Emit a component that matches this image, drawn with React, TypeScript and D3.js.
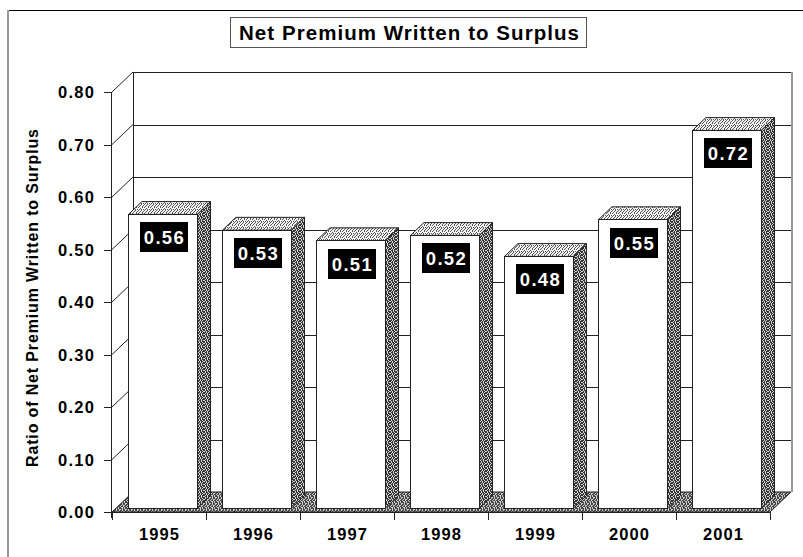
import React from "react";
import * as d3 from "d3";

// Chart data
const years = ["1995", "1996", "1997", "1998", "1999", "2000", "2001"];
const ratios = [0.56, 0.53, 0.51, 0.52, 0.48, 0.55, 0.72];
const yTicks = [0, 0.1, 0.2, 0.3, 0.4, 0.5, 0.6, 0.7, 0.8];
const chartTitle = "Net Premium Written to Surplus";
const yTitle = "Ratio of Net Premium Written to Surplus";

const W = 803;
const H = 557;

// 3D depth offset of the whole plot box (front -> back)
const DEPTH_X = 21;
const DEPTH_Y = -20;
// Bars occupy this fraction of the depth
const Z_FRONT = 0.18;
const Z_BACK = 0.82;

const FONT = "'Liberation Sans', Arial, Helvetica, sans-serif";

// Stipple masks for the textured faces ("x" = dark pixel)
const TOP_MASK = ["x..x..", "..x..x", ".x..x.", "x...x.", "..x...", ".x.x.x"];
const SIDE_MASK = ["x.xx.x", ".x.xx.", "xx.x.x", "x.x.xx", ".xx.x.", "x.x.xx"];
const FLOOR_MASK = ["xx.xx.", "x.x..x", ".xx.xx", "x..x.x", "xx.x.x", ".x.xx."];

function Stipple({ id, mask, bg, fg }: { id: string; mask: string[]; bg: string; fg: string }) {
  const cells: JSX.Element[] = [];
  mask.forEach((row, r) =>
    row.split("").forEach((c, k) => {
      if (c === "x") cells.push(<rect key={`${r}-${k}`} x={k} y={r} width={1} height={1} fill={fg} />);
    })
  );
  return (
    <pattern id={id} patternUnits="userSpaceOnUse" width={mask[0].length} height={mask.length}>
      <rect width={mask[0].length} height={mask.length} fill={bg} />
      {cells}
    </pattern>
  );
}

export default function App() {
  const x = d3
    .scaleBand<string>()
    .domain(years)
    .range([112, 770])
    .paddingInner(0.27)
    .paddingOuter(0.135);
  const y = d3.scaleLinear().domain([0, 0.8]).range([512, 92]);
  const step = x.step();
  const [x0, x1] = x.range();

  // project a point (screen x on front plane, value, depth 0..1)
  const P = (px: number, v: number, z: number): [number, number] => [px + DEPTH_X * z, y(v) + DEPTH_Y * z];
  const poly = (pts: [number, number][]) => pts.map((p) => p.join(",")).join(" ");

  const boundaries = d3.range(years.length + 1).map((i) => x0 + i * step);

  return (
    <svg width={W} height={H} viewBox={`0 0 ${W} ${H}`} style={{ display: "block", position: "absolute", left: 0, top: 0 }} shapeRendering="crispEdges">
      <defs>
        <Stipple id="topFace" mask={TOP_MASK} bg="#f4f4f4" fg="#555" />
        <Stipple id="sideFace" mask={SIDE_MASK} bg="#d8d8d8" fg="#333" />
        <Stipple id="floorFace" mask={FLOOR_MASK} bg="#cfcfcf" fg="#444" />
      </defs>
      <rect width={W} height={H} fill="#fff" />

      {/* chart area frame */}
      <line x1={8} y1={10.5} x2={W} y2={10.5} stroke="#000" strokeWidth={1.5} />
      <line x1={8} y1={10} x2={8} y2={H} stroke="#999" strokeWidth={1.5} />

      {/* title */}
      <rect x={230.5} y={17.5} width={356} height={30} fill="#fff" stroke="#555" strokeWidth={1} />
      <text x={409} y={40} textAnchor="middle" fontFamily={FONT} fontWeight="bold" fontSize={20.5} textLength={340} lengthAdjust="spacing">
        {chartTitle}
      </text>

      {/* back wall gridlines */}
      {yTicks.filter((v) => v > 0).map((v) => {
        const a = P(x0, v, 1);
        const b = P(x1, v, 1);
        return <line key={`g${v}`} x1={a[0]} y1={a[1] + 0.5} x2={b[0]} y2={b[1] + 0.5} stroke="#222" strokeWidth={1} />;
      })}
      {/* left wall diagonals */}
      {yTicks.filter((v) => v > 0).map((v) => {
        const a = P(x0, v, 0);
        const b = P(x0, v, 1);
        return <line key={`d${v}`} x1={a[0]} y1={a[1]} x2={b[0]} y2={b[1]} stroke="#222" strokeWidth={1} shapeRendering="auto" />;
      })}
      {/* back wall left edge */}
      <line x1={P(x0, 0.8, 1)[0] + 0.5} y1={P(x0, 0.8, 1)[1]} x2={P(x0, 0, 1)[0] + 0.5} y2={P(x0, 0, 1)[1]} stroke="#222" />
      {/* back wall right edge */}
      <line x1={P(x1, 0.8, 1)[0] + 1} y1={P(x1, 0.8, 1)[1]} x2={P(x1, 0, 1)[0] + 1} y2={P(x1, 0, 1)[1]} stroke="#999" strokeWidth={2} />

      {/* floor */}
      <polygon
        points={poly([P(x0, 0, 0), P(x1, 0, 0), P(x1, 0, 1), P(x0, 0, 1)])}
        fill="url(#floorFace)"
        stroke="#222"
        strokeWidth={1}
        shapeRendering="auto"
      />

      {/* bars */}
      {years.map((yr, i) => {
        const v = ratios[i];
        const bx0 = x(yr)!;
        const bx1 = bx0 + x.bandwidth();
        const front: [number, number][] = [P(bx0, v, Z_FRONT), P(bx1, v, Z_FRONT), P(bx1, 0, Z_FRONT), P(bx0, 0, Z_FRONT)];
        const top: [number, number][] = [P(bx0, v, Z_FRONT), P(bx1, v, Z_FRONT), P(bx1, v, Z_BACK), P(bx0, v, Z_BACK)];
        const side: [number, number][] = [P(bx1, v, Z_FRONT), P(bx1, v, Z_BACK), P(bx1, 0, Z_BACK), P(bx1, 0, Z_FRONT)];
        const [fx, fy] = P(bx0, v, Z_FRONT);
        const cx = fx + x.bandwidth() / 2 + 1;
        const boxW = 48;
        const boxH = 30;
        const boxY = fy + 8;
        return (
          <g key={yr}>
            <polygon points={poly(side)} fill="url(#sideFace)" stroke="#222" strokeWidth={1} shapeRendering="auto" />
            <polygon points={poly(top)} fill="url(#topFace)" stroke="#222" strokeWidth={1} shapeRendering="auto" />
            <polygon points={poly(front)} fill="#fff" stroke="#222" strokeWidth={1} />
            <rect x={cx - boxW / 2} y={boxY} width={boxW} height={boxH} fill="#000" />
            <text
              x={cx}
              y={boxY + 22}
              textAnchor="middle"
              fill="#fff"
              fontFamily={FONT}
              fontWeight="bold"
              fontSize={18.5}
              textLength={40}
              lengthAdjust="spacing"
            >
              {v.toFixed(2)}
            </text>
          </g>
        );
      })}

      {/* front value axis */}
      <line x1={x0 - 0.5} y1={y(0.8)} x2={x0 - 0.5} y2={y(0) + 6} stroke="#222" />
      {yTicks.map((v) => (
        <g key={`t${v}`}>
          <line x1={x0 - 8} y1={y(v) + 0.5} x2={x0} y2={y(v) + 0.5} stroke="#222" />
          <text x={94} y={y(v) + 6} textAnchor="end" fontFamily={FONT} fontWeight="bold" fontSize={16.5} textLength={36} lengthAdjust="spacing">
            {v.toFixed(2)}
          </text>
        </g>
      ))}

      {/* category axis */}
      <line x1={x0} y1={y(0) + 0.5} x2={x1} y2={y(0) + 0.5} stroke="#222" />
      {boundaries.map((bx, i) => (
        <line key={`c${i}`} x1={bx + 0.5} y1={y(0)} x2={bx + 0.5} y2={y(0) + 8} stroke="#222" />
      ))}
      {years.map((yr) => (
        <text
          key={`l${yr}`}
          x={x(yr)! + x.bandwidth() / 2}
          y={540}
          textAnchor="middle"
          fontFamily={FONT}
          fontWeight="bold"
          fontSize={16.5}
          textLength={40}
          lengthAdjust="spacing"
        >
          {yr}
        </text>
      ))}

      {/* value axis title */}
      <text
        transform={`translate(38,298) rotate(-90)`}
        textAnchor="middle"
        fontFamily={FONT}
        fontWeight="bold"
        fontSize={16}
        textLength={338}
        lengthAdjust="spacing"
      >
        {yTitle}
      </text>
    </svg>
  );
}
